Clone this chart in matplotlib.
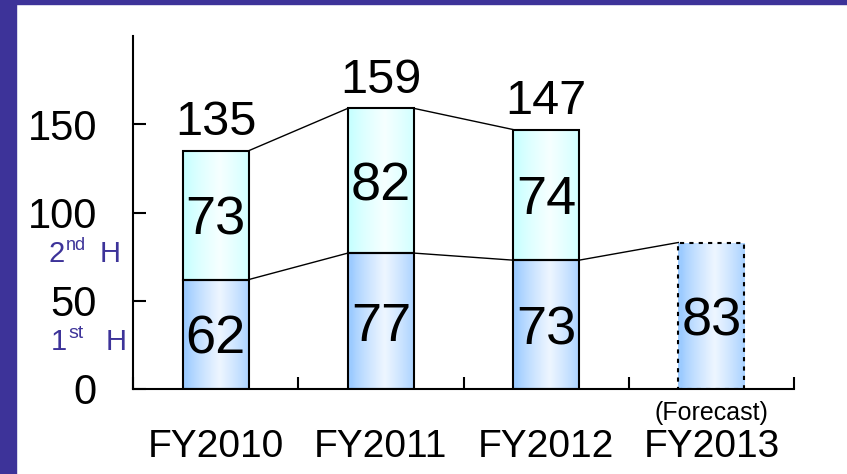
import numpy as np
import matplotlib
matplotlib.use("Agg")
import matplotlib.pyplot as plt
from matplotlib.patches import Rectangle

plt.rcParams["font.family"] = ["Liberation Sans", "DejaVu Sans"]

# Data
years = ["FY2010", "FY2011", "FY2012", "FY2013"]
first_half = [62, 77, 73, 83]
second_half = [73, 82, 74]
totals = [135, 159, 147]
yticks = [0, 50, 100, 150]

purple = "#3d3399"
width = 0.4

fig = plt.figure(figsize=(8.47, 4.74), dpi=100)
ax = fig.add_axes([133 / 847, 85 / 474, 661 / 847, 353 / 474])

# purple frame on left and top
fig.add_artist(Rectangle((0, 0), 16 / 847, 1, transform=fig.transFigure, color=purple, zorder=0))
fig.add_artist(Rectangle((0, 1 - 4 / 474), 1, 4 / 474, transform=fig.transFigure, color=purple, zorder=0))


def gradient_bar(patch, edge, mid):
    # horizontal gradient clipped to the bar
    x0, y0 = patch.get_x(), patch.get_y()
    w, h = patch.get_width(), patch.get_height()
    t = np.linspace(0, 1, 64)
    prof = np.clip(1 - np.abs(t - 0.55) / 0.5, 0, 1) ** 0.8
    c0, c1 = np.array(matplotlib.colors.to_rgb(edge)), np.array(matplotlib.colors.to_rgb(mid))
    img = c0[None, :] + (c1 - c0)[None, :] * prof[:, None]
    img = img[None, :, :]
    im = ax.imshow(img, extent=[x0, x0 + w, y0, y0 + h], aspect="auto", zorder=2, interpolation="bilinear")
    im.set_clip_path(patch)


x = np.arange(len(years))

# 1st half bars
b1 = ax.bar(x, first_half, width, facecolor="none", edgecolor="black", linewidth=1.5, zorder=3)
for p in b1:
    gradient_bar(p, "#9ccbff", "#eef6ff")
b1[3].set_linestyle((0, (2, 2.5)))

# 2nd half bars
b2 = ax.bar(x[:3], second_half, width, bottom=first_half[:3], facecolor="none", edgecolor="black",
            linewidth=1.5, zorder=3)
for p in b2:
    gradient_bar(p, "#c8ffff", "#f6ffff")

# connector lines
for i in range(len(totals) - 1):
    ax.plot([i + width / 2, i + 1 - width / 2], [totals[i], totals[i + 1]], color="black", lw=1, zorder=4)
for i in range(len(first_half) - 1):
    ax.plot([i + width / 2, i + 1 - width / 2], [first_half[i], first_half[i + 1]], color="black", lw=1, zorder=4)

# labels inside bars
for i, v in enumerate(first_half):
    ax.annotate(str(v), (i, v / 2), xytext=(0, -4), textcoords="offset points", ha="center", va="center",
                fontsize=39, zorder=5)
for i, v in enumerate(second_half):
    ax.annotate(str(v), (i, first_half[i] + v / 2), xytext=(0, -4), textcoords="offset points",
                ha="center", va="center", fontsize=39, zorder=5)
for i, v in enumerate(totals):
    ax.annotate(str(v), (i, v), xytext=(0, 4), textcoords="offset points", ha="center", va="bottom",
                fontsize=35, zorder=5)

# axes styling
ax.set_xlim(-0.5, 3.5)
ax.set_ylim(0, 200)
for s in ["top", "right"]:
    ax.spines[s].set_visible(False)
for s in ["left", "bottom"]:
    ax.spines[s].set_linewidth(1.5)
ax.set_yticks(yticks)
ax.set_yticklabels([str(t) for t in yticks])
ax.tick_params(axis="y", direction="in", length=9, width=1.5, pad=26, labelsize=30)
ax.set_xticks([-0.5, 0.5, 1.5, 2.5, 3.5])
ax.set_xticklabels([])
ax.tick_params(axis="x", which="major", direction="in", length=9, width=1.5)
ax.set_xticks(x, minor=True)
ax.set_xticklabels(years, minor=True)
ax.tick_params(axis="x", which="minor", length=0, pad=29, labelsize=28)

ax.text(3, -0.035, "(Forecast)", transform=ax.get_xaxis_transform(), ha="center", va="top", fontsize=18)

# 1st H / 2nd H labels
fig.text(48 / 847, 1 - 262 / 474, "2", color=purple, fontsize=21, ha="left", va="baseline")
fig.text(66 / 847, 1 - 250 / 474, "nd", color=purple, fontsize=13, ha="left", va="baseline")
fig.text(100 / 847, 1 - 262 / 474, "H", color=purple, fontsize=21, ha="left", va="baseline")
fig.text(51 / 847, 1 - 350 / 474, "1", color=purple, fontsize=21, ha="left", va="baseline")
fig.text(68 / 847, 1 - 338 / 474, "st", color=purple, fontsize=14, ha="left", va="baseline")
fig.text(106 / 847, 1 - 350 / 474, "H", color=purple, fontsize=21, ha="left", va="baseline")

fig.savefig("out.png", dpi=100)
